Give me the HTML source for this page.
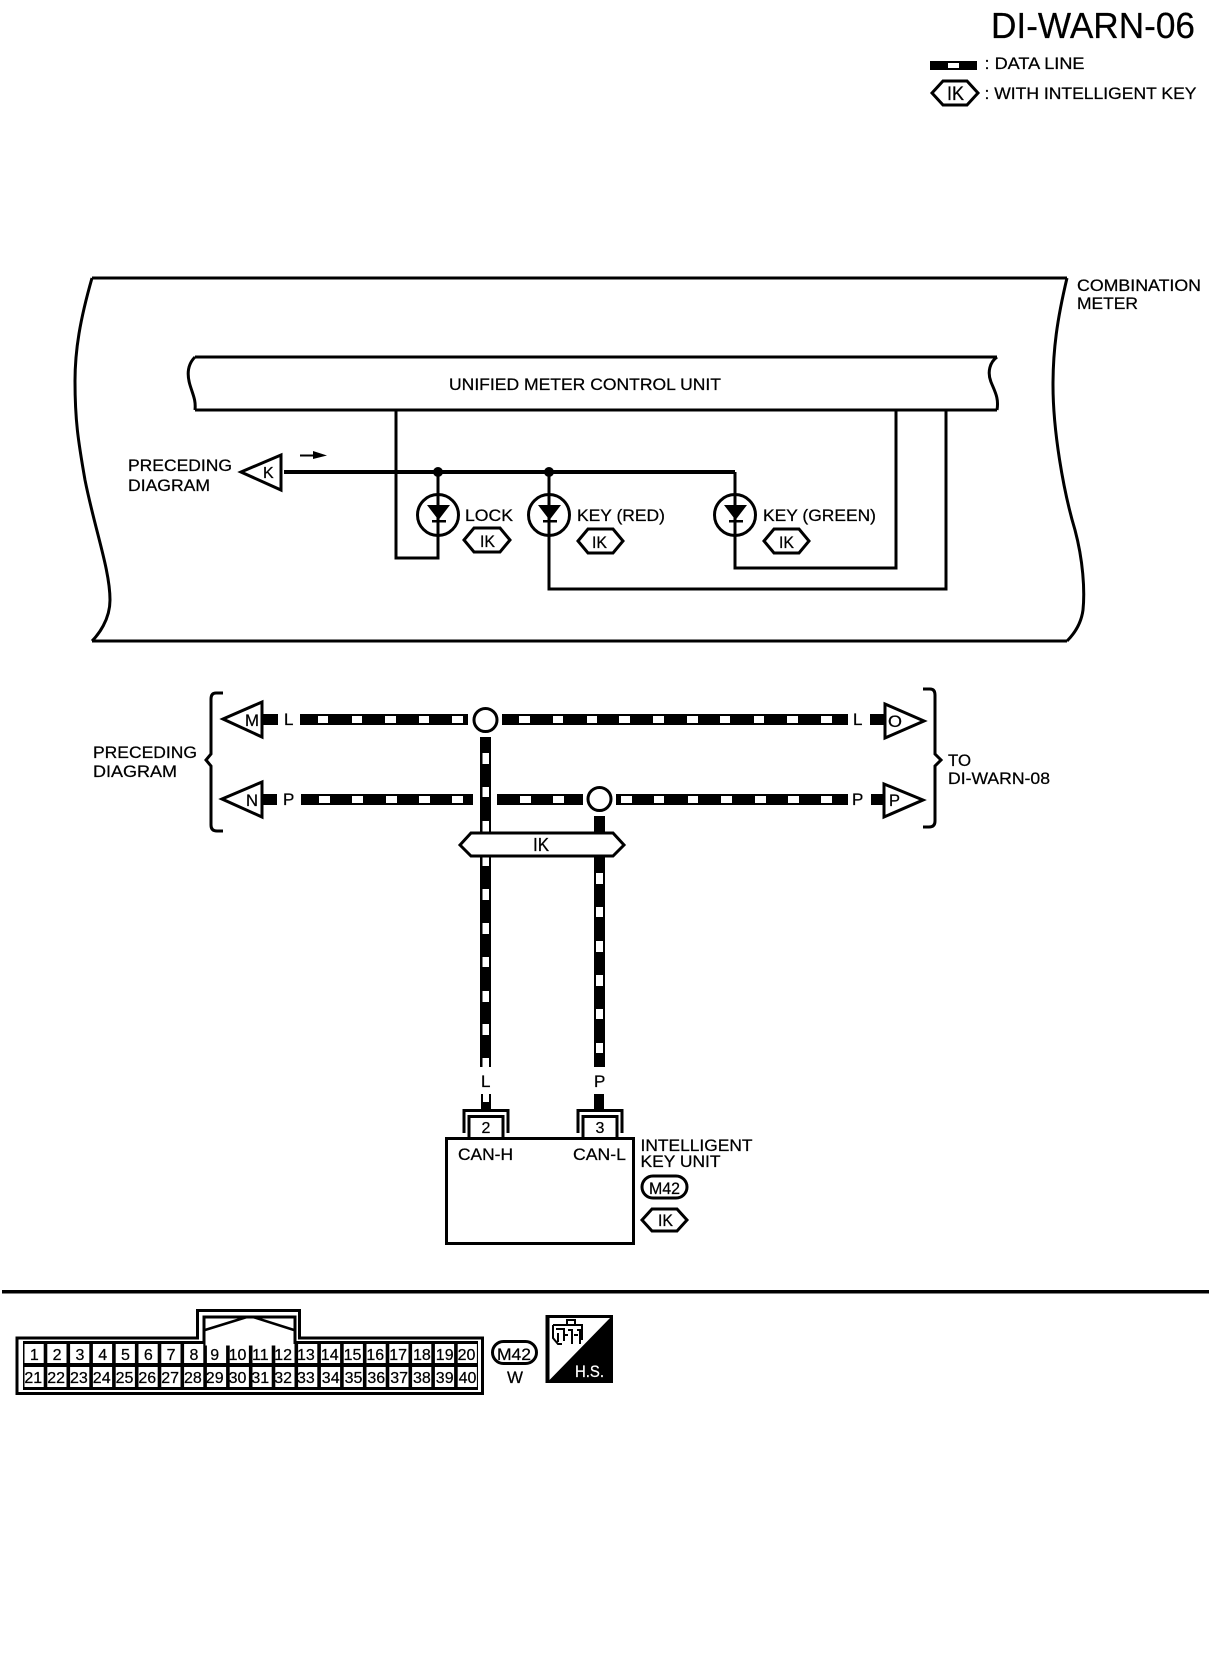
<!DOCTYPE html>
<html>
<head>
<meta charset="utf-8">
<style>
html,body{margin:0;padding:0;background:#fff;width:1216px;height:1660px;overflow:hidden}
svg{display:block}
text{font-family:"Liberation Sans",sans-serif;fill:#000;font-size:17px;stroke:#000;stroke-width:.25}
.n{font-size:16px;text-anchor:middle}
.s{fill:none;stroke:#000;stroke-width:3}
.f{fill:#fff;stroke:#000;stroke-width:3}
</style>
</head>
<body>
<svg xmlns="http://www.w3.org/2000/svg" width="1216" height="1660" viewBox="0 0 1216 1660">
<rect width="1216" height="1660" fill="#fff"/>

<!-- header -->
<text x="991" y="38" style="font-size:36px" textLength="204" lengthAdjust="spacingAndGlyphs">DI-WARN-06</text>
<rect x="930" y="61" width="47" height="9"/>
<rect x="948" y="63" width="11" height="5" fill="#fff"/>
<text x="984.500" y="69" textLength="100" lengthAdjust="spacingAndGlyphs">: DATA LINE</text>
<polygon class="f" points="932,93 943,81 967,81 978,93 967,105 943,105"/>
<text x="947" y="100" style="font-size:19px" textLength="17" lengthAdjust="spacingAndGlyphs">IK</text>
<text x="984.500" y="99" textLength="212" lengthAdjust="spacingAndGlyphs">: WITH INTELLIGENT KEY</text>

<!-- combination meter frame -->
<path class="s" d="M92 278H1067M92 641H1067"/>
<path class="s" d="M92 278C80 320 75 350 75 381C75 420 78 440 85 480C95 530 110 570 110 600C110 620 98 635 92 641"/>
<path class="s" d="M1067 278C1057 320 1053 350 1053 385C1053 430 1063 490 1075 530C1083 560 1085 590 1083 610C1081 625 1073 635 1067 641"/>
<text x="1077" y="291" textLength="124" lengthAdjust="spacingAndGlyphs">COMBINATION</text>
<text x="1077" y="309" textLength="61" lengthAdjust="spacingAndGlyphs">METER</text>

<!-- unified meter -->
<path class="s" d="M195 357H997M195 410H997"/>
<path class="s" d="M195 357C187 365 187 375 190 385C193 395 196 400 195 410"/>
<path class="s" d="M997 357C990 362 987 372 991 382C995 392 999 398 997 410"/>
<text x="449" y="390" textLength="272" lengthAdjust="spacingAndGlyphs">UNIFIED METER CONTROL UNIT</text>

<!-- wires -->
<path class="s" d="M396 410V558H438V472"/>
<path class="s" d="M549 472V589H946V410"/>
<path class="s" d="M735 472V568H896V410"/>
<path class="s" style="stroke-width:4" d="M284 472H735"/>
<circle cx="438" cy="472" r="5"/>
<circle cx="549" cy="472" r="5"/>
<path d="M300 454.500H313V451L327 455.500L313 459V456.500H300Z"/>

<polygon class="f" points="241,472 281,455 281,490"/>
<text x="263" y="478" style="font-size:16px">K</text>
<text x="128" y="471" textLength="104" lengthAdjust="spacingAndGlyphs">PRECEDING</text>
<text x="128" y="491" textLength="82" lengthAdjust="spacingAndGlyphs">DIAGRAM</text>

<!-- LEDs -->
<g>
<circle class="s" cx="438" cy="515" r="20.500"/>
<polygon points="427,505 450,505 438.500,520"/>
<rect x="432" y="520" width="14" height="2.500"/>
<path class="s" d="M438 494V536"/>
<circle class="s" cx="549" cy="515" r="20.500"/>
<polygon points="538,505 561,505 549.500,520"/>
<rect x="543" y="520" width="14" height="2.500"/>
<path class="s" d="M549 494V536"/>
<circle class="s" cx="735" cy="515" r="20.500"/>
<polygon points="724,505 747,505 735.500,520"/>
<rect x="729" y="520" width="14" height="2.500"/>
<path class="s" d="M735 494V536"/>
</g>
<text x="465" y="521" textLength="48" lengthAdjust="spacingAndGlyphs">LOCK</text>
<text x="577" y="521" textLength="88" lengthAdjust="spacingAndGlyphs">KEY (RED)</text>
<text x="763" y="521" textLength="113" lengthAdjust="spacingAndGlyphs">KEY (GREEN)</text>
<polygon class="f" points="464,540 474,528 500,528 510,540 500,552 474,552"/>
<text x="480" y="547" textLength="15" lengthAdjust="spacingAndGlyphs">IK</text>
<polygon class="f" points="578,541 588,529 613,529 623,541 613,553 588,553"/>
<text x="592" y="548" textLength="15" lengthAdjust="spacingAndGlyphs">IK</text>
<polygon class="f" points="764,541 774,529 799,529 809,541 799,553 774,553"/>
<text x="779" y="548" textLength="15" lengthAdjust="spacingAndGlyphs">IK</text>

<!-- data lines: black -->
<path d="M263 714H278V725H263ZM300 714H468V725H300ZM502 714H848V725H502ZM870 714H885V725H870Z"/>
<path d="M263 794H277V805H263ZM301 794H473V805H301ZM497 794H583V805H497ZM616 794H848V805H616ZM871 794H885V805H871Z"/>
<path d="M480 737H491V1067H480ZM594 816H605V1067H594Z"/>
<path d="M481 1094H491V1109H481ZM594 1094H604V1109H594Z"/>
<!-- data lines: white squares -->
<path fill="#fff" d="M318 716h10v7h-10zM352 716h10v7h-10zM385 716h11v7h-11zM419 716h10v7h-10zM452 716h11v7h-11zM519 716h11v7h-11zM553 716h10v7h-10zM587 716h10v7h-10zM619 716h11v7h-11zM653 716h11v7h-11zM687 716h11v7h-11zM720 716h10v7h-10zM754 716h10v7h-10zM787 716h11v7h-11zM821 716h11v7h-11z"/>
<path fill="#fff" d="M319 796h11v7h-11zM352 796h11v7h-11zM386 796h11v7h-11zM419 796h11v7h-11zM452 796h11v7h-11zM520 796h11v7h-11zM553 796h11v7h-11zM621 796h11v7h-11zM654 796h10v7h-10zM688 796h10v7h-10zM721 796h11v7h-11zM755 796h11v7h-11zM788 796h11v7h-11zM821 796h11v7h-11z"/>
<path fill="#fff" d="M482.500 753h6.500v11h-6.500zM482.500 787h6.500v10h-6.500zM482.500 821h6.500v11h-6.500zM482.500 855h6.500v11h-6.500zM482.500 889h6.500v11h-6.500zM482.500 923h6.500v11h-6.500zM482.500 957h6.500v10h-6.500zM482.500 991h6.500v11h-6.500zM482.500 1024h6.500v11h-6.500zM482.500 1058h6.500v9h-6.500zM483 1094h6v8h-6z"/>
<path fill="#fff" d="M596 873h7v11h-7zM596 907h7v10h-7zM596 941h7v11h-7zM596 975h7v11h-7zM596 1009h7v10h-7zM596 1043h7v10h-7z"/>

<circle class="f" cx="485.500" cy="720" r="11.500"/>
<circle class="f" cx="599.500" cy="799" r="11.500"/>

<!-- IK band -->
<polygon class="f" points="460,845 471,833 613,833 624,845 613,856 471,856"/>
<text x="533" y="851" style="font-size:18px" textLength="16" lengthAdjust="spacingAndGlyphs">IK</text>

<!-- flags -->
<polygon class="f" points="223,719 262,702 262,737"/>
<text x="245" y="726" textLength="14" lengthAdjust="spacingAndGlyphs">M</text>
<polygon class="f" points="222,799 262,782 262,817"/>
<text x="246" y="806" textLength="12" lengthAdjust="spacingAndGlyphs">N</text>
<polygon class="f" points="885,704 924,721 885,738"/>
<text x="888" y="727" textLength="14" lengthAdjust="spacingAndGlyphs">O</text>
<polygon class="f" points="884,784 923,800 884,817"/>
<text x="889" y="806" textLength="11" lengthAdjust="spacingAndGlyphs">P</text>
<text x="284" y="725">L</text>
<text x="283" y="805">P</text>
<text x="853" y="725">L</text>
<text x="852" y="805">P</text>

<!-- braces -->
<path class="s" d="M223 693H216Q211 693 211 699V754L206 760L211 766V825Q211 831 217 831H223"/>
<path class="s" d="M923 689H930Q935 689 935 695V754L941 760L935 766V821Q935 827 929 827H923"/>
<text x="93" y="758" textLength="104" lengthAdjust="spacingAndGlyphs">PRECEDING</text>
<text x="93" y="777" textLength="84" lengthAdjust="spacingAndGlyphs">DIAGRAM</text>
<text x="948" y="766" textLength="23" lengthAdjust="spacingAndGlyphs">TO</text>
<text x="948" y="784" textLength="102" lengthAdjust="spacingAndGlyphs">DI-WARN-08</text>

<!-- key unit -->
<text x="481" y="1087">L</text>
<text x="594" y="1087">P</text>
<path class="s" d="M464 1133V1110.500H508V1133"/>
<path class="s" d="M469 1138V1116.500H503V1138"/>
<path class="s" d="M578 1133V1110.500H622V1133"/>
<path class="s" d="M583 1138V1116.500H617V1138"/>
<text class="n" x="486" y="1133">2</text>
<text class="n" x="600" y="1133">3</text>
<rect class="s" x="446.500" y="1138.500" width="187" height="105"/>
<text x="458" y="1160" textLength="55" lengthAdjust="spacingAndGlyphs">CAN-H</text>
<text x="573" y="1160" textLength="53" lengthAdjust="spacingAndGlyphs">CAN-L</text>
<text x="640.500" y="1151" textLength="112" lengthAdjust="spacingAndGlyphs">INTELLIGENT</text>
<text x="640.500" y="1167" textLength="80" lengthAdjust="spacingAndGlyphs">KEY UNIT</text>
<rect class="s" x="642" y="1176" width="45" height="22" rx="11"/>
<text x="649" y="1194" textLength="31" lengthAdjust="spacingAndGlyphs">M42</text>
<polygon class="f" points="642,1220 652,1209 677,1209 687,1220 677,1231 652,1231"/>
<text x="658" y="1226" textLength="15" lengthAdjust="spacingAndGlyphs">IK</text>

<!-- rule -->
<rect x="2" y="1290" width="1207" height="3.500"/>

<!-- connector -->
<path class="s" d="M17 1338H197.500V1310.500H299.500V1338H482.500V1393.500H17Z"/>
<rect x="23" y="1341" width="455" height="49"/>
<rect x="202.500" y="1315.500" width="94" height="27" fill="#000"/>
<rect x="205.500" y="1318.500" width="88" height="27" fill="#fff"/>
<path class="s" style="stroke-width:2.500" d="M205 1330L247 1317M253 1317L294 1330"/>
<line x1="24.500" y1="1353.500" x2="477" y2="1353.500" stroke="#fff" stroke-width="19" stroke-dasharray="19.200 3.600"/>
<line x1="24.500" y1="1377" x2="477" y2="1377" stroke="#fff" stroke-width="20" stroke-dasharray="19.200 3.600"/>
<g>
<text class="n" x="34.300" y="1360">1</text><text class="n" x="57.100" y="1360">2</text><text class="n" x="79.900" y="1360">3</text><text class="n" x="102.700" y="1360">4</text><text class="n" x="125.500" y="1360">5</text><text class="n" x="148.300" y="1360">6</text><text class="n" x="171.100" y="1360">7</text><text class="n" x="193.900" y="1360">8</text><text class="n" x="214.700" y="1360">9</text><text class="n" x="237.500" y="1360">10</text><text class="n" x="260.300" y="1360">11</text><text class="n" x="283.100" y="1360">12</text><text class="n" x="305.900" y="1360">13</text><text class="n" x="329.700" y="1360">14</text><text class="n" x="352.500" y="1360">15</text><text class="n" x="375.300" y="1360">16</text><text class="n" x="398.100" y="1360">17</text><text class="n" x="421.900" y="1360">18</text><text class="n" x="444.700" y="1360">19</text><text class="n" x="466.500" y="1360">20</text>
<text class="n" x="33.300" y="1383">21</text><text class="n" x="56.100" y="1383">22</text><text class="n" x="78.900" y="1383">23</text><text class="n" x="101.700" y="1383">24</text><text class="n" x="124.500" y="1383">25</text><text class="n" x="147.300" y="1383">26</text><text class="n" x="170.100" y="1383">27</text><text class="n" x="192.900" y="1383">28</text><text class="n" x="214.700" y="1383">29</text><text class="n" x="237.500" y="1383">30</text><text class="n" x="260.300" y="1383">31</text><text class="n" x="283.100" y="1383">32</text><text class="n" x="305.900" y="1383">33</text><text class="n" x="330.700" y="1383">34</text><text class="n" x="353.500" y="1383">35</text><text class="n" x="376.300" y="1383">36</text><text class="n" x="399.100" y="1383">37</text><text class="n" x="421.900" y="1383">38</text><text class="n" x="444.700" y="1383">39</text><text class="n" x="467.500" y="1383">40</text>
</g>

<!-- M42 pill -->
<rect class="s" x="492.500" y="1341.500" width="44" height="22" rx="11"/>
<text x="497" y="1360" textLength="34" lengthAdjust="spacingAndGlyphs">M42</text>
<text x="507" y="1383" textLength="16" lengthAdjust="spacingAndGlyphs">W</text>

<!-- H.S. icon -->
<rect x="545.500" y="1315" width="67.500" height="68"/>
<polygon points="549.500,1318 610,1318 549.500,1380" fill="#fff"/>
<path fill="none" stroke="#000" stroke-width="2" d="M553 1325H582V1340M553 1325V1338L558 1344H562M556 1329H564V1341M567 1325V1320H575V1325M568 1330H572V1344M577 1330H580V1344M558 1333V1342M574 1335H578M563 1335H568"/>
<text x="575" y="1377" style="font-size:17px;fill:#fff;stroke:#fff" textLength="29" lengthAdjust="spacingAndGlyphs">H.S.</text>
</svg>
</body>
</html>
